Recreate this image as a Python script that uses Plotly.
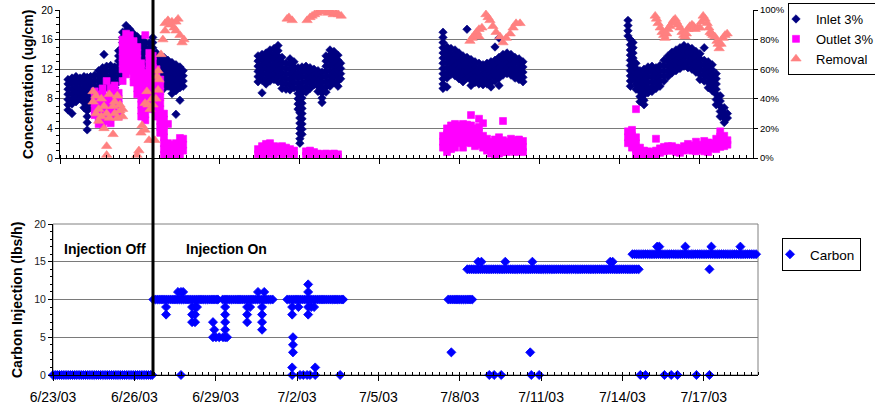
import plotly.graph_objects as go

# ---------------- data (x = days since 6/23/03) ----------------
tick_days = [0, 3, 6, 9, 12, 15, 18, 21, 24]
tick_labels = ["6/23/03", "6/26/03", "6/29/03", "7/2/03", "7/5/03",
               "7/8/03", "7/11/03", "7/14/03", "7/17/03"]

# Inlet 3% concentration (ug/cm): (day, [readings])
inlet_rows = [
    (0.30, [10.6, 10.0, 9.3, 8.6, 7.9, 7.2, 6.5]),
    (0.45, [10.8, 10.1, 9.4, 8.7, 8.0, 7.3, 6.0]),
    (0.60, [11.0, 10.3, 9.6, 8.9, 8.2, 7.6]),
    (0.75, [10.8, 10.1, 9.4, 8.7, 8.0]),
    (0.90, [11.0, 10.3, 9.6, 8.9, 8.2, 7.5, 6.8]),
    (1.02, [10.9, 10.2, 9.5, 8.8, 8.0, 7.2, 6.4, 5.6, 4.8, 3.8]),
    (1.15, [11.0, 10.3, 9.6, 8.9, 8.2, 7.5, 6.8]),
    (1.30, [11.2, 10.5, 9.8, 9.1, 8.4, 7.7]),
    (1.45, [11.8, 11.1, 10.4, 9.7, 9.0]),
    (1.60, [12.2, 11.5, 10.8, 10.1, 9.4]),
    (1.65, [14.0]),
    (1.75, [12.4, 11.7, 11.0, 10.3, 9.6]),
    (1.90, [12.5, 11.8, 11.1, 10.4, 9.7]),
    (2.05, [12.3, 11.6, 10.9, 10.2, 9.5]),
    (2.20, [14.5, 13.8, 13.1, 12.4, 11.7, 11.0, 10.3]),
    (2.35, [17.0, 16.3, 15.6, 14.9, 14.2, 13.5, 12.8, 12.1, 11.4]),
    (2.48, [17.9, 17.2, 16.5, 15.8, 15.1, 14.4, 13.7, 13.0, 12.3]),
    (2.62, [17.4, 16.7, 16.0, 15.3, 14.6, 13.9, 13.2, 12.5]),
    (2.76, [16.8, 16.1, 15.4, 14.7, 14.0, 13.3, 12.6]),
    (2.90, [16.4, 15.7, 15.0, 14.3, 13.6, 12.9, 12.2]),
    (3.05, [16.0, 15.3, 14.6, 13.9, 13.2, 12.5, 11.8]),
    (3.20, [15.6, 14.9, 14.2, 13.5, 12.8, 12.1, 11.4]),
    (3.35, [15.5, 14.8, 14.1, 13.4, 12.7, 12.0]),
    (3.48, [16.3, 15.6, 14.9, 14.2, 13.5, 12.8, 12.1]),
    (3.62, [14.2, 13.5, 12.8, 12.1, 11.4, 10.7, 10.0]),
    (3.76, [13.4, 12.7, 12.0, 11.3, 10.6, 9.9]),
    (3.90, [13.6, 12.9, 12.2, 11.5, 10.8, 10.1, 9.4]),
    (4.05, [13.2, 12.5, 11.8, 11.1, 10.4, 9.7]),
    (4.20, [12.9, 12.2, 11.5, 10.8, 10.1, 9.4, 8.7]),
    (4.35, [12.6, 11.9, 11.2, 10.5, 9.8, 9.1, 5.9]),
    (4.50, [12.3, 11.6, 10.9, 10.2, 9.5, 7.8]),
    (4.62, [11.8, 11.1, 10.4, 9.7]),
    (7.43, [13.8, 13.1, 12.4, 11.7, 11.0, 10.3]),
    (7.58, [14.0, 13.3, 12.6, 11.9, 11.2, 10.5, 8.8]),
    (7.73, [14.2, 13.5, 12.8, 12.1, 11.4, 10.7, 10.0]),
    (7.88, [14.6, 13.9, 13.2, 12.5, 11.8, 11.1, 10.4]),
    (8.03, [14.8, 14.1, 13.4, 12.7, 12.0, 11.3, 10.6]),
    (8.18, [15.2, 14.5, 13.8, 13.1, 12.4, 11.7, 11.0, 10.3]),
    (8.33, [13.6, 12.9, 12.2, 11.5, 10.8, 10.1, 9.4]),
    (8.48, [12.8, 12.1, 11.4, 10.7, 10.0, 9.3]),
    (8.63, [13.4, 12.7, 12.0, 11.3, 10.6, 9.9, 9.2]),
    (8.78, [13.0, 12.3, 11.6, 10.9, 10.2, 9.5]),
    (8.93, [12.2, 11.5, 10.8, 10.1, 9.4, 8.7, 8.0, 7.3, 6.6]),
    (9.00, [9.6, 8.9, 8.2, 7.5, 6.8, 6.1, 5.4, 4.7, 4.0, 3.3, 2.6, 2.0]),
    (9.08, [12.3, 11.6, 10.9, 10.2, 9.5, 8.8, 8.1, 7.4, 6.7, 6.0, 5.3, 4.6, 3.9, 3.2]),
    (9.23, [12.4, 11.7, 11.0, 10.3, 9.6, 8.9]),
    (9.38, [12.2, 11.5, 10.8, 10.1, 9.4]),
    (9.53, [12.0, 11.3, 10.6, 9.9]),
    (9.68, [11.8, 11.1, 10.4, 9.7, 9.0]),
    (9.83, [11.6, 10.9, 10.2, 9.5, 8.8, 8.1, 7.5]),
    (9.98, [13.8, 13.1, 12.4, 11.7, 11.0, 10.3, 9.6, 8.9]),
    (10.13, [14.6, 13.9, 13.2, 12.5, 11.8, 11.1, 10.4, 9.7]),
    (10.28, [14.4, 13.7, 13.0, 12.3, 11.6, 10.9, 10.2]),
    (10.43, [13.9, 13.2, 12.5, 11.8, 11.1, 10.4, 9.7]),
    (10.53, [12.8, 12.1, 11.4, 10.7]),
    (14.37, [17.0, 16.3, 15.6, 14.9, 14.2, 13.5, 12.8, 12.1, 11.4, 10.7, 10.0, 9.4]),
    (14.52, [15.0, 14.3, 13.6, 12.9, 12.2, 11.5, 10.8, 9.6]),
    (14.67, [14.8, 14.1, 13.4, 12.7, 12.0, 11.3]),
    (14.82, [14.6, 13.9, 13.2, 12.5, 11.8, 11.1]),
    (14.97, [14.2, 13.5, 12.8, 12.1, 11.4, 10.7]),
    (15.12, [13.8, 13.1, 12.4, 11.7, 11.0, 10.3]),
    (15.27, [13.6, 12.9, 12.2, 11.5, 10.8, 17.4]),
    (15.42, [13.3, 12.6, 11.9, 11.2, 10.5, 9.8]),
    (15.57, [13.0, 12.3, 11.6, 10.9, 10.2]),
    (15.72, [12.8, 12.1, 11.4, 10.7, 10.0]),
    (15.87, [12.6, 11.9, 11.2, 10.5, 9.9]),
    (16.02, [12.8, 12.1, 11.4, 10.7, 10.0]),
    (16.17, [13.0, 12.3, 11.6, 10.9, 10.2, 9.6]),
    (16.32, [13.2, 12.5, 11.8, 11.1, 10.4, 15.0]),
    (16.47, [13.6, 12.9, 12.2, 11.5, 10.8, 9.8, 16.2]),
    (16.62, [14.0, 13.3, 12.6, 11.9, 11.2]),
    (16.77, [14.2, 13.5, 12.8, 12.1, 11.4]),
    (16.92, [14.0, 13.3, 12.6, 11.9, 11.2]),
    (17.07, [13.6, 12.9, 12.2, 11.5, 10.8]),
    (17.22, [13.4, 12.7, 12.0, 11.3, 10.6]),
    (17.37, [13.0, 12.3, 11.6, 10.9, 10.3]),
    (21.31, [18.6, 17.9, 17.2, 16.5]),
    (21.40, [16.0, 15.3, 14.6, 13.9, 13.2, 12.5, 11.8, 11.1, 10.4, 9.7]),
    (21.50, [15.6, 14.9, 14.2, 13.5, 12.8, 12.1, 11.4, 10.7]),
    (21.61, [12.8, 12.1, 11.4, 10.7, 10.0, 9.3]),
    (21.76, [11.8, 11.1, 10.4, 9.7, 9.0, 8.3, 7.6]),
    (21.91, [12.0, 11.3, 10.6, 9.9, 9.2, 8.5, 7.8, 7.2]),
    (22.06, [12.3, 11.6, 10.9, 10.2, 9.5, 8.8]),
    (22.21, [12.4, 11.7, 11.0, 10.3, 9.6, 9.0]),
    (22.36, [12.2, 11.5, 10.8, 10.1, 9.4]),
    (22.51, [12.5, 11.8, 11.1, 10.4, 9.7]),
    (22.66, [13.2, 12.5, 11.8, 11.1, 10.4]),
    (22.81, [13.8, 13.1, 12.4, 11.7, 11.0]),
    (22.96, [14.3, 13.6, 12.9, 12.2, 11.5]),
    (23.11, [14.6, 13.9, 13.2, 12.5, 11.8]),
    (23.26, [14.9, 14.2, 13.5, 12.8, 12.1]),
    (23.41, [15.2, 14.5, 13.8, 13.1, 12.4]),
    (23.56, [15.0, 14.3, 13.6, 12.9, 12.2]),
    (23.71, [14.8, 14.1, 13.4, 12.7, 12.0]),
    (23.86, [14.4, 13.7, 13.0, 12.3, 11.6]),
    (24.01, [14.1, 13.4, 12.7, 12.0, 11.3, 10.6]),
    (24.17, [14.9, 13.2, 12.5, 11.8, 11.1, 10.4]),
    (24.32, [13.0, 12.3, 11.6, 10.9, 10.2, 9.5]),
    (24.47, [12.6, 11.9, 11.2, 10.5, 9.8, 9.1]),
    (24.62, [11.4, 10.7, 10.0, 9.3, 8.6, 7.9, 7.2]),
    (24.77, [8.4, 7.7, 7.0, 6.3, 5.6]),
    (24.92, [6.8, 6.1, 5.4, 4.8]),
    (25.04, [6.0, 5.4]),
]

# Outlet 3% concentration (ug/cm)
outlet_rows = [
    (1.30, [9.0, 8.2, 7.4, 6.6, 5.8]),
    (1.45, [8.6, 7.8, 7.0, 6.2, 5.4, 4.6]),
    (1.60, [9.4, 8.6, 7.8, 7.0, 6.2, 5.4, 4.6]),
    (1.75, [10.4, 8.2, 7.4, 6.6, 5.8, 5.0]),
    (1.90, [9.5, 8.7, 7.9, 7.1, 6.3, 5.5, 4.7]),
    (2.05, [9.8, 9.0, 8.2, 7.4, 6.6, 5.8]),
    (2.20, [8.8, 8.0, 7.2, 6.4, 5.6]),
    (2.35, [10.4, 16.0, 15.2, 14.4, 13.6, 12.8, 12.0]),
    (2.48, [16.8, 16.0, 15.2, 14.4, 13.6, 12.8, 12.0, 11.3]),
    (2.62, [16.6, 15.8, 15.0, 14.2, 13.4, 12.6, 11.8]),
    (2.76, [15.8, 15.0, 14.2, 13.4, 12.6, 11.8, 11.0, 10.2]),
    (2.90, [15.0, 14.2, 13.4, 12.6, 11.8, 11.0, 10.2, 9.4, 8.6]),
    (3.05, [12.8, 12.0, 11.2, 10.4, 9.6, 8.8, 8.0, 7.2, 6.4, 5.6]),
    (3.20, [16.6, 11.5, 10.7, 9.9, 9.1, 8.3, 7.5, 6.7, 5.9, 5.1]),
    (3.35, [14.2, 13.4, 12.6, 11.8, 11.0, 10.2, 9.4, 8.6, 7.8, 7.0]),
    (3.48, [13.8, 13.0, 12.2, 11.4, 10.6, 9.8, 9.0, 8.2, 7.4, 6.6]),
    (3.62, [12.0, 11.2, 10.4, 9.6, 8.8, 8.0, 7.2, 6.4, 5.6]),
    (3.76, [10.6, 9.8, 9.0, 8.2, 7.4, 6.6, 5.8, 5.0, 4.2, 3.4]),
    (3.90, [6.0, 5.2, 4.4, 3.6, 2.8, 2.0, 1.2, 0.4]),
    (4.05, [4.6, 2.0, 1.2, 0.4]),
    (4.20, [1.8, 1.0, 0.3]),
    (4.35, [2.0, 1.2, 0.5]),
    (4.50, [2.7, 1.9, 1.1, 0.4]),
    (4.62, [2.6, 1.8, 1.0]),
    (7.43, [1.2, 0.5]),
    (7.58, [1.6, 0.9, 0.3]),
    (7.73, [1.9, 1.2, 0.5]),
    (7.88, [2.0, 1.3, 0.6]),
    (8.03, [1.6, 0.9, 0.3]),
    (8.18, [1.5, 0.8]),
    (8.33, [1.6, 0.9, 0.3]),
    (8.48, [1.4, 0.7]),
    (8.63, [1.2, 0.5]),
    (8.78, [1.0, 0.4]),
    (9.23, [0.9, 0.3]),
    (9.38, [1.0, 0.4]),
    (9.53, [0.8, 0.2]),
    (9.68, [0.6, 0.1]),
    (9.83, [0.5, 0.1]),
    (9.98, [0.6, 0.1]),
    (10.13, [0.5, 0.1]),
    (10.28, [0.6, 0.1]),
    (10.43, [0.5, 0.1]),
    (14.37, [3.0, 2.2, 1.4]),
    (14.52, [4.0, 3.2, 2.4, 1.6, 0.8]),
    (14.67, [4.4, 3.6, 2.8, 2.0, 1.2]),
    (14.82, [4.6, 3.8, 3.0, 2.2, 1.4]),
    (14.97, [4.4, 3.6, 2.8, 2.0]),
    (15.12, [4.6, 3.8, 3.0, 2.2, 1.4]),
    (15.27, [4.5, 3.7, 2.9, 2.1]),
    (15.42, [5.8, 4.4, 3.6, 2.8, 2.0]),
    (15.57, [4.0, 3.2, 2.4, 1.6]),
    (15.72, [5.3, 4.2, 3.4, 2.6, 1.8]),
    (15.87, [4.7, 3.0, 2.2, 1.4]),
    (16.02, [2.6, 1.8, 1.0]),
    (16.17, [2.2, 1.4, 0.6]),
    (16.32, [2.5, 1.7, 0.9, 0.3]),
    (16.47, [2.8, 2.0, 1.2, 0.6]),
    (16.62, [5.0, 2.4, 1.6, 0.8]),
    (16.77, [2.2, 1.4, 0.8]),
    (16.92, [2.6, 1.8, 1.0]),
    (17.07, [2.4, 1.6, 0.8]),
    (17.22, [2.5, 1.7, 0.9]),
    (17.37, [2.3, 1.5, 0.8]),
    (21.31, [3.6, 2.8, 2.0]),
    (21.46, [3.8, 3.0, 2.2, 1.4]),
    (21.61, [6.6, 2.8, 2.0, 1.2, 0.4]),
    (21.76, [1.4, 0.6, 0.1]),
    (21.91, [1.0, 0.4, 0.0]),
    (22.06, [0.9, 0.3]),
    (22.21, [0.8, 0.2]),
    (22.36, [2.6, 1.0, 0.4]),
    (22.51, [1.3, 0.7]),
    (22.66, [1.5, 0.9]),
    (22.81, [1.6, 1.0]),
    (22.96, [1.6, 1.0]),
    (23.11, [1.4, 0.8]),
    (23.26, [1.3, 0.7]),
    (23.41, [1.6, 1.0]),
    (23.56, [1.9, 1.2]),
    (23.71, [1.7, 1.0]),
    (23.86, [2.2, 1.5, 0.9]),
    (24.01, [1.8, 1.1]),
    (24.17, [2.3, 1.6, 0.9]),
    (24.32, [2.1, 1.4, 0.8]),
    (24.47, [2.0, 1.3]),
    (24.62, [2.6, 1.9, 1.2]),
    (24.77, [3.6, 2.9, 2.2, 1.5]),
    (24.92, [3.0, 2.3, 1.6]),
    (25.04, [2.4, 1.8]),
]

# Removal (%)
removal_rows = [
    (1.24, [45, 38]), (1.35, [30, 42]), (1.45, [25, 33]), (1.55, [28, 40]),
    (1.65, [20, 35]), (1.75, [8, 2, 30]), (1.85, [43, 27]), (1.99, [16, 35]),
    (2.05, [38, 30]), (2.15, [27, 42]), (2.25, [32, 36]), (2.35, [33, 28]),
    (2.89, [2]), (2.96, [5]), (3.04, [17]), (3.08, [22]), (3.19, [19, 37]),
    (3.26, [45]), (3.30, [36]), (3.34, [12]), (3.38, [33]), (3.45, [40]),
    (3.49, [36]), (3.56, [12]), (3.60, [40]), (3.64, [55]), (3.68, [59, 46]),
    (3.71, [53]), (3.79, [70]), (3.86, [80]), (3.94, [91, 86]), (4.05, [93]),
    (4.13, [90]), (4.20, [92]), (4.28, [88]), (4.35, [86, 92]), (4.43, [94]),
    (4.50, [83]), (4.58, [78]), (4.65, [80]),
    (8.52, [94]), (8.59, [95]), (8.71, [93]),
    (9.27, [93]), (9.38, [95]), (9.46, [96]), (9.55, [97]), (9.65, [98]),
    (9.75, [99]), (9.85, [100]), (9.95, [99]), (10.05, [98]), (10.15, [99]),
    (10.25, [97]), (10.35, [98]), (10.45, [97]), (10.55, [96]),
    (15.38, [79]), (15.46, [81]), (15.55, [83]), (15.63, [85]), (15.72, [87, 82]),
    (15.83, [88]), (15.98, [97]), (16.06, [95]), (16.13, [93]), (16.24, [89]),
    (16.36, [85]), (16.51, [82]), (16.62, [78]), (16.74, [81]), (16.89, [84]),
    (17.00, [88]), (17.11, [91]), (17.26, [91]),
    (22.33, [96]), (22.38, [94]), (22.44, [91]), (22.52, [88]), (22.59, [85]),
    (22.65, [83]), (22.70, [81]), (22.76, [84]), (22.81, [87]), (22.88, [89]),
    (22.96, [91]), (23.02, [93]), (23.08, [94]), (23.13, [92]), (23.19, [90]),
    (23.26, [88]), (23.34, [85]), (23.40, [83]), (23.45, [82]), (23.50, [84]),
    (23.56, [87]), (23.63, [89]), (23.71, [90]), (23.77, [89]), (23.83, [87]),
    (23.92, [88]), (24.01, [88]), (24.07, [92]), (24.13, [96]), (24.20, [94]),
    (24.28, [91]), (24.34, [88]), (24.39, [85]), (24.45, [84]), (24.50, [83]),
    (24.57, [82]), (24.65, [79]), (24.69, [77]), (24.73, [74]), (24.80, [77]),
    (24.88, [81]), (24.95, [83]), (25.03, [84]),
]

# Carbon injection (lbs/h): (value, [days])
carbon_rows = [
    (0, [0.00, 0.08, 0.16, 0.24, 0.32, 0.40, 0.48, 0.56, 0.64, 0.72, 0.80, 0.88,
         0.96, 1.04, 1.12, 1.20, 1.28, 1.36, 1.44, 1.52, 1.60, 1.68, 1.76, 1.84,
         1.92, 2.00, 2.08, 2.16, 2.24, 2.32, 2.40, 2.48, 2.56, 2.64, 2.72, 2.80,
         2.88, 2.96, 3.04, 3.12, 3.20, 3.28, 3.36, 3.44, 3.52, 3.60, 3.66,
         4.72, 8.82, 9.11, 9.23, 9.37, 9.48, 9.67, 10.59,
         16.09, 16.27, 16.53, 17.64, 17.93, 21.66, 21.85, 22.55, 22.80, 23.03,
         23.73, 24.21, 26.01]),
    (1, [8.82, 9.67]),
    (3, [8.85, 14.69, 17.60]),
    (4, [8.85]),
    (5, [5.90, 6.01, 6.13, 6.27, 6.35, 6.42, 8.85]),
    (6, [5.95, 6.35, 7.71]),
    (7, [5.13, 5.24, 5.90, 6.35, 7.16, 7.71]),
    (8, [4.17, 5.13, 5.24, 6.35, 7.16, 7.71, 8.82, 9.41]),
    (9, [4.17, 5.13, 5.24, 5.31, 6.35, 7.16, 7.27, 7.71, 8.82, 9.05, 9.41,
         9.52, 9.63]),
    (10, [3.70, 3.78, 3.86, 3.94, 4.02, 4.10, 4.18, 4.26, 4.34, 4.42, 4.50, 4.58,
          4.66, 4.74, 4.82, 4.90, 4.98, 5.06, 5.14, 5.22, 5.30, 5.38, 5.46, 5.54,
          5.62, 5.70, 5.78, 5.86, 5.94, 6.02, 6.08,
          6.26, 6.34, 6.42, 6.50, 6.58, 6.66, 6.74, 6.82, 6.90, 6.98, 7.06, 7.14,
          7.22, 7.30, 7.38, 7.46, 7.54, 7.62, 7.70, 7.78, 7.86, 7.94, 8.02, 8.10,
          8.64, 8.72, 8.80, 8.88, 8.96, 9.04, 9.12, 9.20, 9.28, 9.36, 9.44, 9.52,
          9.60, 9.68, 9.76, 9.84, 9.92, 10.00, 10.08, 10.16, 10.24, 10.32, 10.40,
          10.48, 10.56, 10.64, 10.70,
          14.58, 14.66, 14.74, 14.82, 14.90, 14.98, 15.06, 15.14, 15.22, 15.30,
          15.38, 15.46]),
    (11, [4.61, 4.72, 4.80, 7.56, 7.79, 9.41]),
    (12, [9.41]),
    (14, [15.28, 15.36, 15.44, 15.52, 15.60, 15.68, 15.76, 15.84, 15.92, 16.00,
          16.08, 16.16, 16.24, 16.32, 16.40, 16.48, 16.56, 16.64, 16.72, 16.80,
          16.88, 16.96, 17.04, 17.12, 17.20, 17.28, 17.36, 17.44, 17.52, 17.60,
          17.68, 17.76, 17.84, 17.92, 18.00, 18.08, 18.16, 18.24, 18.32, 18.40,
          18.48, 18.56, 18.64, 18.72, 18.80, 18.88, 18.96, 19.04, 19.12, 19.20,
          19.28, 19.36, 19.44, 19.52, 19.60, 19.68, 19.76, 19.84, 19.92, 20.00,
          20.08, 20.16, 20.24, 20.32, 20.40, 20.48, 20.56, 20.64, 20.72, 20.80,
          20.88, 20.96, 21.04, 21.12, 21.20, 21.28, 21.36, 21.44, 21.52, 21.60,
          24.21]),
    (15, [15.68, 15.80, 16.68, 17.68, 20.55, 20.64]),
    (16, [21.37, 21.45, 21.53, 21.61, 21.69, 21.77, 21.85, 21.93, 22.01, 22.09,
          22.17, 22.25, 22.33, 22.41, 22.49, 22.57, 22.65, 22.73, 22.81, 22.89,
          22.97, 23.05, 23.13, 23.21, 23.29, 23.37, 23.45, 23.53, 23.61, 23.69,
          23.77, 23.85, 23.93, 24.01, 24.09, 24.17, 24.25, 24.33, 24.41, 24.49,
          24.57, 24.65, 24.73, 24.81, 24.89, 24.97, 25.05, 25.13, 25.21, 25.29,
          25.37, 25.45, 25.53, 25.61, 25.69, 25.77, 25.85, 25.93, 26.01]),
    (17, [22.28, 22.36, 23.32, 24.28, 25.35]),
]


def flatten_xy(rows):
    xs, ys = [], []
    for d, vals in rows:
        for v in vals:
            xs.append(d)
            ys.append(v)
    return xs, ys


def flatten_by_value(rows):
    xs, ys = [], []
    for v, days in rows:
        for d in days:
            xs.append(d)
            ys.append(v)
    return xs, ys


inlet_x, inlet_y = flatten_xy(inlet_rows)
outlet_x, outlet_y = flatten_xy(outlet_rows)
removal_x, removal_y = flatten_xy(removal_rows)
carbon_x, carbon_y = flatten_by_value(carbon_rows)

# ---------------- figure ----------------
W, H = 875, 405
FONT = "Liberation Sans, Arial, sans-serif"


def px_x(p):
    return p / W


def px_y(p):
    return (H - p) / H


fig = go.Figure()
fig.add_trace(go.Scatter(
    x=inlet_x, y=inlet_y, mode="markers", name="Inlet 3%",
    marker=dict(symbol="diamond", size=6.5, color="#000080",
                line=dict(width=0.6, color="#000080")),
    xaxis="x", yaxis="y", legend="legend"))
fig.add_trace(go.Scatter(
    x=outlet_x, y=outlet_y, mode="markers", name="Outlet 3%",
    marker=dict(symbol="square", size=7, color="#FF00FF",
                line=dict(width=0.6, color="#FF00FF")),
    xaxis="x", yaxis="y", legend="legend"))
fig.add_trace(go.Scatter(
    x=removal_x, y=removal_y, mode="markers", name="Removal",
    marker=dict(symbol="triangle-up", size=9, color="#FF8080",
                line=dict(width=0.6, color="#FF8080")),
    xaxis="x", yaxis="y2", legend="legend"))
fig.add_trace(go.Scatter(
    x=carbon_x, y=carbon_y, mode="markers", name="Carbon",
    marker=dict(symbol="diamond", size=7, color="#0000FF",
                line=dict(width=0.8, color="#0000FF")),
    xaxis="x2", yaxis="y3", legend="legend2", cliponaxis=False))

axis_common = dict(showline=True, linecolor="black", linewidth=1, zeroline=False,
                   tickcolor="black")

fig.update_layout(
    width=W, height=H,
    margin=dict(l=0, r=0, t=0, b=0, autoexpand=False),
    paper_bgcolor="white", plot_bgcolor="white",
    font=dict(family=FONT, color="black"),
    xaxis=dict(domain=[px_x(60), px_x(753)], range=[0, 26], anchor="y",
               tickmode="linear", tick0=0, dtick=3, ticks="outside", ticklen=5,
               showticklabels=False, showgrid=False,
               minor=dict(ticks="inside", ticklen=3, tickmode="linear", tick0=0,
                          dtick=0.25, tickcolor="black", showgrid=False),
               **axis_common),
    yaxis=dict(domain=[px_y(158), px_y(10)], range=[0, 20], anchor="x",
               tickmode="linear", tick0=0, dtick=4, ticks="outside", ticklen=4,
               showgrid=True, gridcolor="#7a7a7a", gridwidth=1,
               minor=dict(ticks="outside", ticklen=3, dtick=1, tickcolor="black",
                          showgrid=False),
               tickfont=dict(family=FONT, color="black", size=10.5),
               **axis_common),
    yaxis2=dict(overlaying="y", side="right", anchor="x", range=[0, 100],
                tickmode="linear", tick0=0, dtick=20, ticksuffix="%",
                ticks="outside", ticklen=4, showgrid=False,
                tickfont=dict(family=FONT, color="black", size=9.5),
                **axis_common),
    xaxis2=dict(domain=[px_x(53), px_x(758)], range=[0, 26], anchor="y3",
                tickmode="array", tickvals=tick_days, ticktext=tick_labels,
                ticks="outside", ticklen=5, showgrid=False, ticklabelstandoff=4,
                minor=dict(ticks="inside", ticklen=3, tickmode="linear", tick0=0,
                           dtick=0.25, tickcolor="black", showgrid=False),
                tickfont=dict(family=FONT, color="black", size=14),
                **axis_common),
    yaxis3=dict(domain=[px_y(375), px_y(224)], range=[0, 20], anchor="x2",
                tickmode="linear", tick0=0, dtick=5, ticks="outside", ticklen=4,
                showgrid=True, gridcolor="#7a7a7a", gridwidth=1,
                minor=dict(ticks="outside", ticklen=2, dtick=1, tickcolor="black",
                           showgrid=False),
                tickfont=dict(family=FONT, color="#222", size=10.5),
                **axis_common),
    legend=dict(x=px_x(788), y=px_y(3), xanchor="left", yanchor="top",
                bgcolor="white", bordercolor="black", borderwidth=1,
                font=dict(family=FONT, size=13, color="black"),
                itemwidth=30, indentation=-13, tracegroupgap=0),
    legend2=dict(x=px_x(782), y=px_y(238), xanchor="left", yanchor="top",
                 bgcolor="white", bordercolor="black", borderwidth=1,
                 font=dict(family=FONT, size=13.5, color="black"),
                 itemwidth=30, indentation=-13),
    shapes=[
        dict(type="rect", xref="x2 domain", yref="y3 domain", x0=0, x1=1, y0=0, y1=1,
             line=dict(color="#808080", width=1), layer="below"),
        dict(type="line", xref="paper", yref="paper", x0=px_x(153), x1=px_x(153),
             y0=px_y(375), y1=px_y(0), line=dict(color="black", width=3), layer="above"),
    ],
    annotations=[
        dict(text="<b>Concentration (ug/cm)</b>", xref="paper", yref="paper",
             x=px_x(28), y=px_y(85), textangle=-90, showarrow=False,
             xanchor="center", yanchor="middle", font=dict(family=FONT, size=14)),
        dict(text="<b>Carbon Injection (lbs/h)</b>", xref="paper", yref="paper",
             x=px_x(17), y=px_y(300), textangle=-90, showarrow=False,
             xanchor="center", yanchor="middle", font=dict(family=FONT, size=14)),
        dict(text="<b>Injection Off</b>", xref="paper", yref="paper",
             x=px_x(105), y=px_y(249), showarrow=False,
             xanchor="center", yanchor="middle", font=dict(family=FONT, size=14)),
        dict(text="<b>Injection On</b>", xref="paper", yref="paper",
             x=px_x(226), y=px_y(249), showarrow=False,
             xanchor="center", yanchor="middle", font=dict(family=FONT, size=14)),
    ],
)

fig.write_html("out.html", config={"displayModeBar": False},
               post_script="document.body.style.margin='0';")
